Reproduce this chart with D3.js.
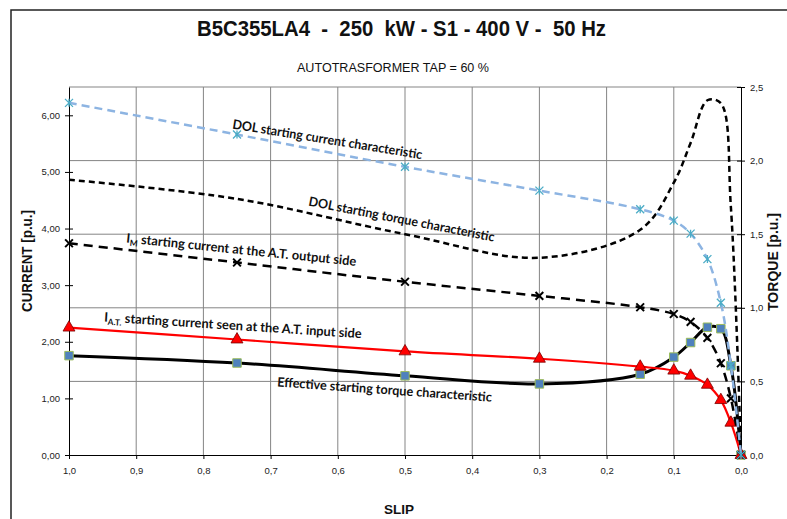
<!DOCTYPE html>
<html>
<head>
<meta charset="utf-8">
<script src="https://cdn.jsdelivr.net/npm/d3@7"></script>
<style>
  html, body { margin: 0; padding: 0; background: #fff; }
  svg { display: block; }
  text { white-space: pre; }
</style>
</head>
<body>
<svg id="chart" width="787" height="519"></svg>
<script>
// ---------------- DATA ----------------
const slip = [1.0, 0.75, 0.5, 0.3, 0.15, 0.1, 0.075, 0.05, 0.03, 0.015, 0.0];
const dolCurrent = [6.22, 5.66, 5.09, 4.67, 4.34, 4.14, 3.91, 3.46, 2.69, 1.58, 0.0];
const imCurrent = [3.74, 3.40, 3.06, 2.81, 2.61, 2.49, 2.35, 2.07, 1.62, 1.00, 0.0];
const atCurrent = [2.25, 2.04, 1.83, 1.70, 1.56, 1.49, 1.40, 1.24, 0.97, 0.57, 0.0];
const effTorque = [0.675, 0.625, 0.538, 0.483, 0.549, 0.665, 0.764, 0.868, 0.858, 0.606, 0.0];
const dolTorque = [1.87, 1.74, 1.50, 1.34, 1.53, 1.85, 2.12, 2.41, 2.39, 1.68, 0.0];

const slipTicks = [1.0, 0.9, 0.8, 0.7, 0.6, 0.5, 0.4, 0.3, 0.2, 0.1, 0.0];
const currentTicks = [0, 1, 2, 3, 4, 5, 6];
const torqueTicks = [0, 0.5, 1.0, 1.5, 2.0, 2.5];

const titleText = "B5C355LA4  -  250  kW - S1 - 400 V -  50 Hz";
const subtitleText = "AUTOTRASFORMER TAP = 60 %";
const xTitle = "SLIP";
const yLTitle = "CURRENT [p.u.]";
const yRTitle = "TORQUE [p.u.]";

// ---------------- LAYOUT ----------------
const svg = d3.select("#chart");
const L = 69, R = 741, T = 87, B = 455;
const loc = d3.formatLocale({decimal: ",", thousands: ".", grouping: [3], currency: ["", ""]});

const x = d3.scaleLinear().domain([1, 0]).range([L, R]);
const yL = d3.scaleLinear().domain([0, 6.5]).range([B, T]);
const yR = d3.scaleLinear().domain([0, 2.5]).range([B, T]);

// outer frame
svg.append("rect").attr("x", 11).attr("y", 10).attr("width", 800).attr("height", 540)
  .attr("fill", "none").attr("stroke", "#222").attr("stroke-width", 1.5);

// titles
svg.append("text").attr("x", 401.5).attr("y", 35.5).attr("text-anchor", "middle")
  .attr("font-family", "Liberation Sans, Arial, sans-serif").attr("font-weight", "bold")
  .attr("font-size", 21.5).attr("textLength", 409).attr("lengthAdjust", "spacingAndGlyphs")
  .attr("fill", "#111").text(titleText);
svg.append("text").attr("x", 393).attr("y", 72).attr("text-anchor", "middle")
  .attr("font-family", "Liberation Sans, Arial, sans-serif")
  .attr("font-size", 12.5).attr("textLength", 192).attr("lengthAdjust", "spacingAndGlyphs")
  .attr("fill", "#111").text(subtitleText);

// gridlines
const grid = svg.append("g").attr("stroke", "#858585").attr("stroke-width", 1);
grid.selectAll("line.v").data(slipTicks.filter(d => d > 0.05 && d < 0.95)).join("line")
  .attr("x1", d => x(d)).attr("x2", d => x(d)).attr("y1", T).attr("y2", B);
grid.selectAll("line.h").data(torqueTicks.filter(d => d > 0)).join("line")
  .attr("x1", L).attr("x2", R).attr("y1", d => yR(d)).attr("y2", d => yR(d));

// axes
const fontAxis = "Liberation Sans, Arial, sans-serif";
const gx = svg.append("g").attr("transform", `translate(0,${B})`)
  .call(d3.axisBottom(x).tickValues(slipTicks).tickFormat(loc.format(".1f"))
    .tickSize(4).tickSizeOuter(0).tickPadding(8));
const gl = svg.append("g").attr("transform", `translate(${L},0)`)
  .call(d3.axisLeft(yL).tickValues(currentTicks).tickFormat(loc.format(".2f"))
    .tickSize(4).tickSizeOuter(0).tickPadding(5));
const gr = svg.append("g").attr("transform", `translate(${R},0)`)
  .call(d3.axisRight(yR).tickValues(torqueTicks).tickFormat(loc.format(".1f"))
    .tickSize(4).tickSizeOuter(0).tickPadding(5));
gl.selectAll(".tick line").attr("x1", 4);
gr.selectAll(".tick line").attr("x1", -4);
[gx, gl, gr].forEach(g => {
  g.selectAll("text").attr("font-family", fontAxis).attr("font-size", 9.5).attr("fill", "#222");
  g.selectAll("path.domain, line").attr("stroke", "#000");
});
// axis titles
svg.append("text").attr("x", 399).attr("y", 514).attr("text-anchor", "middle")
  .attr("font-family", fontAxis).attr("font-weight", "bold").attr("font-size", 13.5)
  .attr("fill", "#111").text(xTitle);
svg.append("text").attr("transform", "translate(31.5,261) rotate(-90)").attr("text-anchor", "middle")
  .attr("font-family", fontAxis).attr("font-weight", "bold").attr("font-size", 14.5)
  .attr("textLength", 102).attr("lengthAdjust", "spacingAndGlyphs")
  .attr("fill", "#111").text(yLTitle);
svg.append("text").attr("transform", "translate(777.5,262) rotate(-90)").attr("text-anchor", "middle")
  .attr("font-family", fontAxis).attr("font-weight", "bold").attr("font-size", 14.5)
  .attr("textLength", 98).attr("lengthAdjust", "spacingAndGlyphs")
  .attr("fill", "#111").text(yRTitle);

// ---------------- SERIES ----------------
const curve = d3.curveCatmullRom.alpha(0.5);
function draw(values, yScale, stroke, width, dash) {
  const pts = slip.map((s, i) => [s, values[i]]);
  svg.append("path").datum(pts)
    .attr("d", d3.line().x(d => x(d[0])).y(d => yScale(d[1])).curve(curve))
    .attr("fill", "none").attr("stroke", stroke).attr("stroke-width", width)
    .attr("stroke-dasharray", dash || null);
  return pts;
}
const asterisk = {
  draw(ctx, size) {
    const r = Math.sqrt(size) / 2;
    ctx.moveTo(0, -r); ctx.lineTo(0, r);
    ctx.moveTo(-r, -r); ctx.lineTo(r, r);
    ctx.moveTo(-r, r); ctx.lineTo(r, -r);
  }
};
const times = {
  draw(ctx, size) {
    const r = Math.sqrt(size) / 2;
    ctx.moveTo(-r, -r); ctx.lineTo(r, r);
    ctx.moveTo(-r, r); ctx.lineTo(r, -r);
  }
};
function markers(pts, yScale, type, size, fill, stroke, sw) {
  svg.append("g").selectAll("path").data(pts).join("path")
    .attr("transform", d => `translate(${x(d[0])},${yScale(d[1])})`)
    .attr("d", d3.symbol().type(type).size(size))
    .attr("fill", fill).attr("stroke", stroke).attr("stroke-width", sw);
}

const pDolT = draw(dolTorque, yR, "#000", 2.5, "6,4");
const pEff = draw(effTorque, yR, "#000", 3, null);
markers(pEff, yR, d3.symbolSquare, 72, "#4f81bd", "#9bbb59", 1);
const pAt = draw(atCurrent, yL, "#ff0000", 2.2, null);
markers(pAt, yL, d3.symbolTriangle, 62, "#ff0000", "#7a0000", 0.8);
const pIm = draw(imCurrent, yL, "#000", 2.5, "9,6");
markers(pIm, yL, times, 60, "none", "#000", 2);
const pDol = draw(dolCurrent, yL, "#8db4e2", 2.5, "8,5");
markers(pDol, yL, asterisk, 64, "none", "#4bacc6", 1.3);

// ---------------- CURVE LABELS ----------------
const lblFont = "Lato, 'Open Sans', sans-serif";
function label(x0, y0, ang, len, parts) {
  const t = svg.append("text").attr("transform", `translate(${x0},${y0}) rotate(${ang})`)
    .attr("font-family", lblFont).attr("font-weight", "bold").attr("font-size", 13)
    .attr("fill", "#111").attr("textLength", len).attr("lengthAdjust", "spacingAndGlyphs");
  parts.forEach(p => {
    const s = t.append("tspan").text(p.t);
    if (p.sub) s.attr("font-size", 8.5).attr("dy", 3);
    if (p.up) s.attr("dy", -3);
  });
}
label(232, 128.5, 9.2, 192, [{t: "DOL starting current characteristic"}]);
label(308, 205.5, 11.0, 189, [{t: "DOL starting torque characteristic"}]);
label(126, 242.5, 5.8, 231, [{t: "I"}, {t: "M", sub: true}, {t: " starting current at the A.T. output side", up: true}]);
label(104, 321.5, 3.7, 258, [{t: "I"}, {t: "A.T.", sub: true}, {t: " starting current seen at the A.T. input side", up: true}]);
label(277, 386.5, 4.05, 215, [{t: "Effective starting torque characteristic"}]);
</script>
</body>
</html>
